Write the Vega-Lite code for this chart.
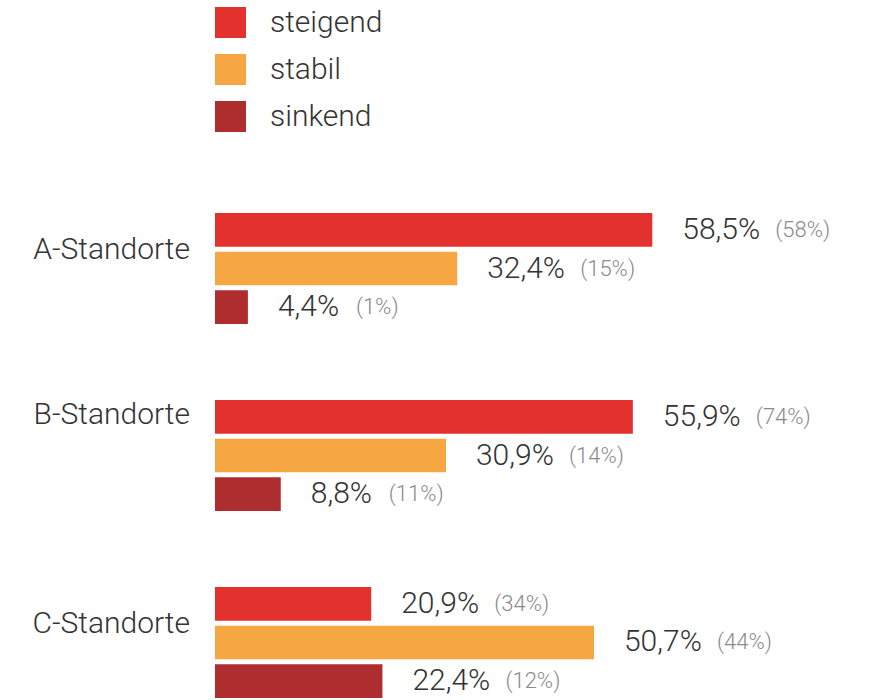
{
  "$schema": "https://vega.github.io/schema/vega-lite/v6.json",
  "width": 598,
  "height": 485,
  "autosize": {"type": "none"},
  "padding": {"left": 215, "top": 213, "right": 57, "bottom": 2},
  "background": "white",
  "config": {
    "view": {"stroke": null},
    "font": "Roboto",
    "text": {"font": "Roboto", "fontWeight": 300}
  },
  "data": {
    "values": [
      {"Standort": "A-Standorte", "Trend": "steigend", "value": 58.5, "lab": "58,5%", "sub": "(58%)"},
      {"Standort": "A-Standorte", "Trend": "stabil", "value": 32.4, "lab": "32,4%", "sub": "(15%)"},
      {"Standort": "A-Standorte", "Trend": "sinkend", "value": 4.4, "lab": "4,4%", "sub": "(1%)"},
      {"Standort": "B-Standorte", "Trend": "steigend", "value": 55.9, "lab": "55,9%", "sub": "(74%)"},
      {"Standort": "B-Standorte", "Trend": "stabil", "value": 30.9, "lab": "30,9%", "sub": "(14%)"},
      {"Standort": "B-Standorte", "Trend": "sinkend", "value": 8.8, "lab": "8,8%", "sub": "(11%)"},
      {"Standort": "C-Standorte", "Trend": "steigend", "value": 20.9, "lab": "20,9%", "sub": "(34%)"},
      {"Standort": "C-Standorte", "Trend": "stabil", "value": 50.7, "lab": "50,7%", "sub": "(44%)"},
      {"Standort": "C-Standorte", "Trend": "sinkend", "value": 22.4, "lab": "22,4%", "sub": "(12%)"}
    ]
  },
  "encoding": {
    "y": {
      "field": "Standort", "type": "nominal",
      "scale": {"domain": ["A-Standorte", "B-Standorte", "C-Standorte"], "paddingInner": 0.4064, "paddingOuter": 0},
      "axis": null
    },
    "yOffset": {
      "field": "Trend", "type": "nominal",
      "scale": {"domain": ["steigend", "stabil", "sinkend"], "paddingInner": 0.13, "paddingOuter": 0}
    },
    "x": {
      "field": "value", "type": "quantitative",
      "scale": {"domain": [0, 80], "nice": false, "zero": true},
      "axis": null
    }
  },
  "layer": [
    {
      "mark": {"type": "bar", "cornerRadius": 0},
      "encoding": {
        "color": {
          "field": "Trend", "type": "nominal",
          "scale": {"domain": ["steigend", "stabil", "sinkend"], "range": ["#e3322d", "#f6a642", "#ae2e30"]},
          "legend": {
            "title": null,
            "orient": "none",
            "legendX": 0,
            "legendY": -206,
            "padding": 0,
            "symbolType": "square",
            "symbolSize": 961,
            "symbolStrokeWidth": 0,
            "symbolOpacity": 1,
            "rowPadding": 16,
            "labelFontSize": 30,
            "labelFont": "Roboto",
            "labelFontWeight": 300,
            "labelColor": "#333333",
            "labelOffset": 24,
            "labelLimit": 300
          }
        }
      }
    },
    {
      "mark": {"type": "text", "align": "left", "baseline": "middle", "dx": 30, "fontSize": 30, "fontWeight": 300, "color": "#333333"},
      "encoding": {"text": {"field": "lab"}}
    },
    {
      "mark": {"type": "text", "align": "left", "baseline": "middle", "dx": {"expr": "datum.lab.length > 4 ? 123 : 108"}, "fontSize": 22, "fontWeight": 300, "color": "#8a8a8a"},
      "encoding": {"text": {"field": "sub"}}
    },
    {
      "transform": [{"filter": "datum.Trend == 'steigend'"}],
      "mark": {"type": "text", "align": "right", "baseline": "middle", "dx": -25, "dy": {"expr": "datum.Standort == 'B-Standorte' ? -2 : 20"}, "fontSize": 30, "fontWeight": 300, "color": "#333333"},
      "encoding": {
        "x": {"datum": 0},
        "text": {"field": "Standort"}
      }
    }
  ]
}
